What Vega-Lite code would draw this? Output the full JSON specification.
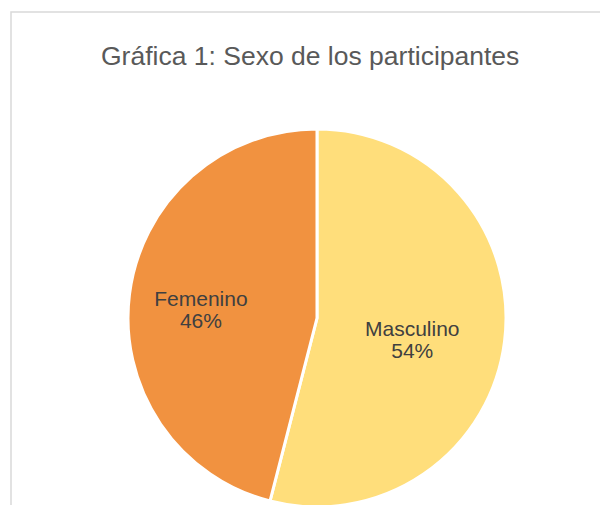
{
  "$schema": "https://vega.github.io/schema/vega-lite/v6.json",
  "autosize": "none",
  "width": 600,
  "height": 505,
  "padding": {"left": 11, "top": 12, "right": -11, "bottom": -12},
  "background": "white",
  "view": {"stroke": "#d9d9d9", "strokeWidth": 1.5},
  "config": {"view": {"stroke": "#d9d9d9", "strokeWidth": 1.5}, "font": "Liberation Sans"},
  "title": {"text": "Gráfica 1: Sexo de los participantes", "anchor": "start", "offset": -58, "dx": 90, "fontSize": 26.5, "fontWeight": "normal", "color": "#595959", "font": "Liberation Sans"},
  "data": {"values": [
    {"sexo": "Masculino", "pct": 54, "label": "54%"},
    {"sexo": "Femenino", "pct": 46, "label": "46%"}
  ]},
  "encoding": {
    "theta": {"field": "pct", "type": "quantitative", "stack": true},
    "order": {"field": "pct", "sort": "descending"},
    "color": {"field": "sexo", "type": "nominal", "scale": {"domain": ["Masculino", "Femenino"], "range": ["#FFDE7B", "#F19240"]}, "legend": null}
  },
  "layer": [
    {"mark": {"type": "arc", "x": 306, "y": 306, "outerRadius": 189, "stroke": "white", "strokeWidth": 3}},
    {"transform": [{"calculate": "[datum.sexo, datum.label]", "as": "txt"}],
     "mark": {"type": "text", "x": 306, "y": 306, "radius": 117, "dy": -3, "fontSize": 21, "lineHeight": 22},
     "encoding": {"text": {"field": "txt"}, "color": {"value": "#404040"},
       "opacity": {"condition": {"test": "datum.sexo == 'Femenino'", "value": 1}, "value": 0}}},
    {"transform": [{"calculate": "[datum.sexo, datum.label]", "as": "txt"}],
     "mark": {"type": "text", "x": 306, "y": 306, "radius": 96, "dy": 0, "fontSize": 21, "lineHeight": 22},
     "encoding": {"text": {"field": "txt"}, "color": {"value": "#404040"},
       "opacity": {"condition": {"test": "datum.sexo == 'Masculino'", "value": 1}, "value": 0}}}
  ]
}
